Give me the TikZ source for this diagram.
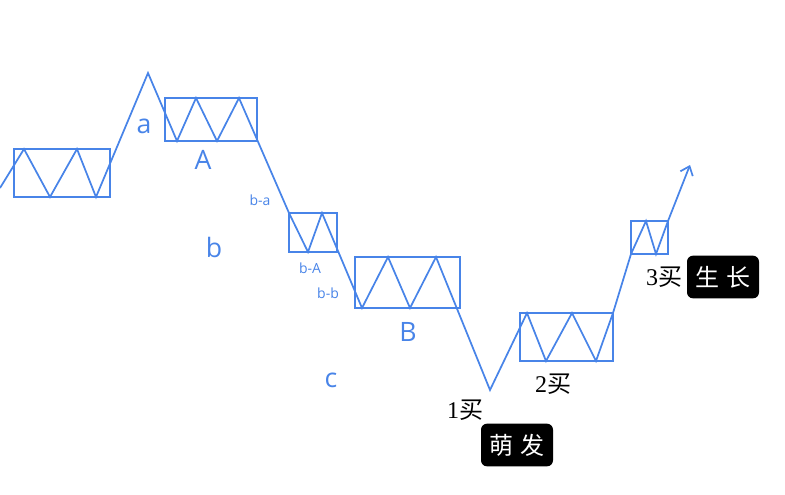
\documentclass[tikz,border=0pt]{standalone}
\usepackage{fontspec}
\setmainfont{Liberation Serif}
\setsansfont{Open Sans}
\newfontfamily\cjk{Noto Sans CJK SC}
\usetikzlibrary{arrows.meta}
\definecolor{wblue}{RGB}{72,132,232}
\tikzset{
  wline/.style={draw=wblue, line width=1.3pt, line join=miter},
  wbox/.style={draw=wblue, line width=1.3pt},
  biglab/.style={text=wblue, font=\sffamily\fontsize{20}{22}\selectfont, inner sep=0pt},
  smalllab/.style={text=wblue, font=\sffamily\fontsize{10.5}{12}\selectfont, inner sep=0pt},
  buylab/.style={text=black, font=\fontsize{18}{20}\selectfont, inner sep=0pt},
  tagbox/.style={fill=black, rounded corners=4.5pt, text=white, minimum width=54pt, minimum height=32pt, inner sep=0pt, font=\cjk\fontsize{18}{20}\selectfont}
}
\begin{document}
\begin{tikzpicture}[x=0.75pt,y=-0.75pt]
\useasboundingbox (0,0) rectangle (785,494);
% boxes
\draw[wbox] (14,149) rectangle (110,197);
\draw[wbox] (165,98) rectangle (257,141);
\draw[wbox] (289,213) rectangle (337,252);
\draw[wbox] (355,257) rectangle (460,308);
\draw[wbox] (520,313) rectangle (613,361);
\draw[wbox] (631,221) rectangle (668,254);
% path coordinates
\coordinate (p0) at (0,188);
\coordinate (p1) at (24,149);
\coordinate (p2) at (50,197);
\coordinate (p3) at (77,149);
\coordinate (p4) at (96,197);
\coordinate (pa) at (148,73);
\coordinate (p5) at (177,141);
\coordinate (p6) at (196,98);
\coordinate (p7) at (217,141);
\coordinate (p8) at (239,98);
\coordinate (p9) at (289,213);
\coordinate (p10) at (308,252);
\coordinate (p11) at (322,213);
\coordinate (p12) at (362,308);
\coordinate (p13) at (388,257);
\coordinate (p14) at (410,308);
\coordinate (p15) at (436,257);
\coordinate (pc) at (490,390);
\coordinate (p16) at (527,313);
\coordinate (p17) at (546,361);
\coordinate (p18) at (572,313);
\coordinate (p19) at (596,361);
\coordinate (p20) at (613,313);
\coordinate (p21) at (631,254);
\coordinate (p22) at (646,221);
\coordinate (p23) at (656,254);
\coordinate (p24) at (668,221);
\coordinate (pend) at (690,165);
\draw[wline, -{Straight Barb[length=6pt,width=10pt]}]
  (p0) -- (p1) -- (p2) -- (p3) -- (p4) -- (pa) -- (p5) -- (p6) -- (p7) -- (p8)
  -- (p9) -- (p10) -- (p11) -- (p12) -- (p13) -- (p14) -- (p15) -- (pc)
  -- (p16) -- (p17) -- (p18) -- (p19) -- (p20) -- (p21) -- (p22) -- (p23) -- (p24) -- (pend);
% labels
\node[biglab] (la) at (144,126) {a};
\node[biglab] (lA) at (203,160) {A};
\node[smalllab] (lba) at (260,200) {b-a};
\node[biglab] (lb) at (214,247) {b};
\node[smalllab] (lbA) at (310,268) {b-A};
\node[smalllab] (lbb) at (328,293) {b-b};
\node[biglab] (lB) at (408,332) {B};
\node[biglab] (lc) at (331,380) {c};
\node[buylab] (b1) at (465,410) {1{\cjk 买}};
\node[buylab] (b2) at (553,384) {2{\cjk 买}};
\node[buylab] (b3) at (664,277) {3{\cjk 买}};
\node[tagbox] (t1) at (517,445) {萌\hspace{5pt}发};
\node[tagbox] (t2) at (723,277) {生\hspace{5pt}长};
\end{tikzpicture}
\end{document}
